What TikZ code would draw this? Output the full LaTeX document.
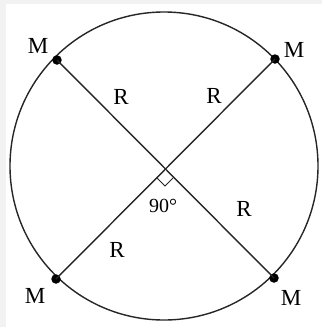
\documentclass[tikz,border=0pt]{standalone}
\usepackage{fontspec}
\setmainfont{Liberation Serif}
\begin{document}
\begin{tikzpicture}[x=1pt,y=-1pt,
  ln/.style={line width=1.4pt,black!85},
  dot/.style={circle,fill=black,inner sep=0pt,minimum size=9.5pt},
  lbl/.style={inner sep=0pt,font=\fontsize{23}{26}\selectfont}]
\fill[black!5] (0,0) rectangle (322,327);
\fill[white] (6,4) rectangle (322,327);
\useasboundingbox (0,0) rectangle (322,327);
\coordinate (O) at (164,166);
\draw[ln] (O) circle[radius=154];
\coordinate (X) at (165,170);
\node[dot] (A) at (57,60) {};
\node[dot] (B) at (275,59) {};
\node[dot] (C) at (56,279) {};
\node[dot] (D) at (274,278) {};
\draw[ln] (A.center) -- (D.center);
\draw[ln] (B.center) -- (C.center);
% right angle mark
\draw[line width=1pt,black!85] (X) ++(-8,8) -- ++(8,8) -- ++(8,-8);
\node[lbl] (mA) at (38,46) {M};
\node[lbl] (mB) at (294,50) {M};
\node[lbl] (mC) at (35,296) {M};
\node[lbl] (mD) at (291,298) {M};
\node[lbl] (r1) at (121,97) {R};
\node[lbl] (r2) at (214,96) {R};
\node[lbl] (r3) at (117,250) {R};
\node[lbl] (r4) at (244,209) {R};
\node[lbl] (ang) at (163,206) {\fontsize{20}{23}\selectfont 90°};
\end{tikzpicture}
\end{document}
